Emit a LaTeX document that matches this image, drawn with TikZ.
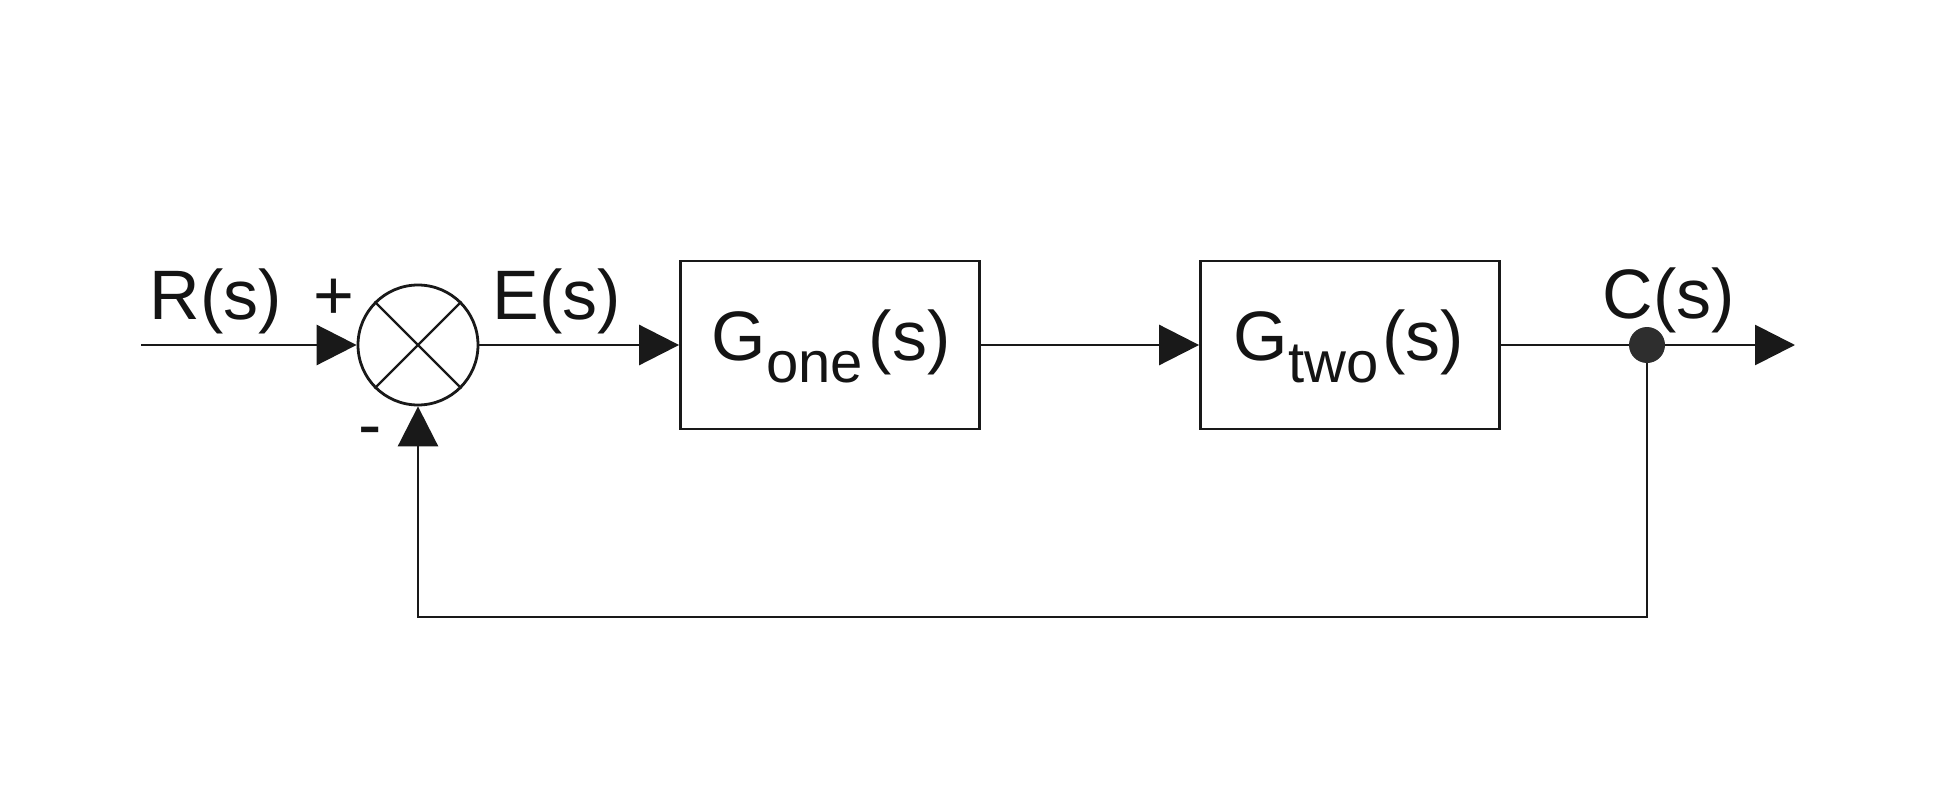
\documentclass[tikz,border=0pt]{standalone}
\usepackage{fontspec}
\setmainfont{Liberation Sans}
\usetikzlibrary{arrows.meta}
\begin{document}
\begin{tikzpicture}[x=1pt,y=-1pt,
  ln/.style={line width=2.8pt, draw=black!90},
  tip/.style={-{Triangle[length=40pt,width=40pt]}},
  blk/.style={draw=black!90, line width=2.8pt, minimum width=299pt, minimum height=168pt, inner sep=0pt},
  lbl/.style={inner sep=0pt, anchor=base, font=\fontsize{70}{80}\selectfont, text=black!92},
  sub/.style={},
]
\useasboundingbox[fill=white] (0,0) rectangle (1952,792);
\newcommand{\subtxt}[1]{\raisebox{-22pt}{\fontsize{58}{60}\selectfont #1}}

\node[circle, draw=black!90, line width=2.8pt, minimum size=120pt, inner sep=0pt] (sum) at (418,345) {};
\draw[ln, line width=2.4pt] (sum.45) -- (sum.225);
\draw[ln, line width=2.4pt] (sum.135) -- (sum.315);

\coordinate (in) at (141,345);
\node[blk] (g1) at (830,345) {};
\node[blk] (g2) at (1350,345) {};
\node[circle, fill=black!82, minimum size=36pt, inner sep=0pt] (dot) at (1647,345) {};
\coordinate (out) at (1795,345);
\coordinate (fbr) at (1647,617);
\coordinate (fbl) at (418,617);

\draw[ln,tip] (in) -- (sum.west);
\draw[ln,tip] (sum.east) -- (g1.west);
\draw[ln,tip] (g1.east) -- (g2.west);
\draw[ln] (g2.east) -- (dot);
\draw[ln,tip] (dot) -- (out);
\draw[ln,tip] (dot) -- (fbr) -- (fbl) -- (sum.south);

\node[lbl] (R) at (216,319) {R(s)};
\node[lbl] (plus) at (334,319) {+};
\node[lbl] (minus) at (370,448) {-};
\node[lbl] (E) at (557,319) {E(s)};
\node[lbl] (C) at (1669,318) {C(s)};
\node[lbl] (g1t) at (831,360) {G\subtxt{one}\kern6pt(s)};
\node[lbl] (g2t) at (1349,360) {G\subtxt{two}\kern4pt(s)};
\end{tikzpicture}
\end{document}
